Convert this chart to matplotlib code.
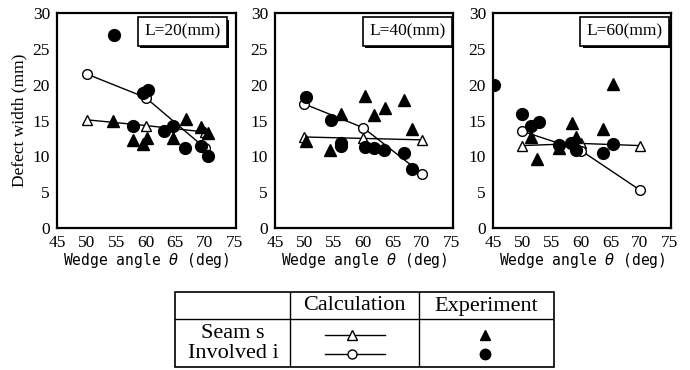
import matplotlib
matplotlib.use("Agg")
import matplotlib.pyplot as plt
from matplotlib.patches import Rectangle
import matplotlib.patheffects as pe

# ---------------- data ----------------
x_ticks = [45, 50, 55, 60, 65, 70, 75]
y_ticks = [0, 5, 10, 15, 20, 25, 30]
panel_labels = ["L=20(mm)", "L=40(mm)", "L=60(mm)"]

calc_x = [50, 60, 70]

# L = 20 mm
calc_seam_20 = [15.1, 14.3, 13.4]
calc_inv_20 = [21.5, 18.2, 11.2]
exp_seam_x_20 = [54.5, 57.9, 59.5, 60.3, 64.7, 66.8, 69.3, 70.6]
exp_seam_y_20 = [15.0, 12.3, 11.7, 12.6, 12.5, 15.2, 14.1, 13.2]
exp_inv_x_20 = [54.6, 59.6, 60.4, 57.9, 63.1, 64.7, 66.6, 69.3, 70.6]
exp_inv_y_20 = [27.0, 18.8, 19.3, 14.2, 13.5, 14.3, 11.2, 11.5, 10.1]

# L = 40 mm
calc_seam_40 = [12.7, 12.5, 12.3]
calc_inv_40 = [17.3, 14.0, 7.6]
exp_seam_x_40 = [50.2, 54.4, 56.3, 60.3, 61.9, 63.7, 66.9, 68.3]
exp_seam_y_40 = [12.2, 10.9, 15.9, 18.4, 15.7, 16.7, 17.8, 13.8]
exp_inv_x_40 = [50.2, 54.6, 56.3, 56.3, 60.3, 61.9, 63.6, 66.9, 68.3]
exp_inv_y_40 = [18.3, 15.1, 11.9, 11.5, 11.3, 11.2, 10.9, 10.5, 8.3]

# L = 60 mm
calc_seam_60 = [11.5, 11.8, 11.5]
calc_inv_60 = [13.5, 10.8, 5.3]
exp_seam_x_60 = [51.4, 52.5, 56.3, 58.5, 59.2, 63.8, 65.5]
exp_seam_y_60 = [12.7, 9.6, 11.1, 14.6, 12.7, 13.8, 20.1]
exp_inv_x_60 = [45.2, 50.0, 51.5, 52.8, 56.3, 58.3, 59.2, 63.8, 65.5]
exp_inv_y_60 = [20.0, 15.9, 14.3, 14.8, 11.6, 11.8, 10.9, 10.4, 11.7]

panels = [
    (calc_seam_20, calc_inv_20, exp_seam_x_20, exp_seam_y_20, exp_inv_x_20, exp_inv_y_20),
    (calc_seam_40, calc_inv_40, exp_seam_x_40, exp_seam_y_40, exp_inv_x_40, exp_inv_y_40),
    (calc_seam_60, calc_inv_60, exp_seam_x_60, exp_seam_y_60, exp_inv_x_60, exp_inv_y_60),
]

table_cols = ["Calculation", "Experiment"]
table_rows = ["Seam s", "Involved i"]

# ---------------- layout ----------------
W, H = 690, 370
fig = plt.figure(figsize=(W / 100, H / 100), dpi=100)
serif = ["Liberation Serif", "DejaVu Serif"]
mono = ["DejaVu Sans Mono"]

axes_px = [(57, 236), (275, 453), (493, 671)]
top_px, bot_px = 13, 228
box_pos = [0.70, 0.744, 0.739]

for i, (ax_lr, data) in enumerate(zip(axes_px, panels)):
    l, r = ax_lr
    ax = fig.add_axes([l / W, 1 - bot_px / H, (r - l) / W, (bot_px - top_px) / H])
    cs, ci, esx, esy, eix, eiy = data
    ax.plot(calc_x, cs, color="black", lw=1.0, marker="^", ms=7,
            mfc="white", mec="black", mew=1.0, zorder=3)
    ax.plot(calc_x, ci, color="black", lw=1.0, marker="o", ms=7,
            mfc="white", mec="black", mew=1.0, zorder=3)
    ax.plot(esx, esy, ls="none", marker="^", ms=8.5, color="black", zorder=4)
    ax.plot(eix, eiy, ls="none", marker="o", ms=8.5, color="black", zorder=4)
    ax.set_xlim(45, 75.3)
    ax.set_ylim(0, 30)
    ax.set_xticks(x_ticks)
    ax.set_yticks(y_ticks)
    ax.tick_params(length=0, pad=5, labelsize=12.5)
    for lab in ax.get_xticklabels() + ax.get_yticklabels():
        lab.set_family(serif)
    for sp in ax.spines.values():
        sp.set_linewidth(1.6)
    ax.set_xlabel("Wedge angle $\\theta$ (deg)", family=mono, fontsize=10.5, labelpad=0)
    if i == 0:
        ax.set_ylabel("Defect width (mm)", family=serif, fontsize=12.5, labelpad=4)
    t = ax.text(box_pos[i], 0.914, panel_labels[i], transform=ax.transAxes,
                ha="center", va="center", family=serif, fontsize=12.5,
                bbox=dict(boxstyle="square,pad=0.35", fc="white", ec="black", lw=1.2),
                zorder=6)
    t.get_bbox_patch().set_path_effects([
        pe.SimplePatchShadow(offset=(1.6, -1.6), shadow_rgbFace="black", alpha=1.0),
        pe.Normal()])

# ---------------- table legend ----------------
tl, tr, tt, tb = 175, 554, 292, 367
tax = fig.add_axes([tl / W, 1 - tb / H, (tr - tl) / W, (tb - tt) / H])
tax.set_xlim(0, tr - tl)
tax.set_ylim(tb - tt, 0)
tax.axis("off")
tw, th = tr - tl, tb - tt
tax.add_patch(Rectangle((0, 0), tw, th, fill=False, ec="black", lw=1.2, clip_on=False))
tax.plot([0, tw], [27, 27], color="black", lw=1.0)
tax.plot([115, 115], [0, th], color="black", lw=1.0)
tax.plot([244, 244], [0, th], color="black", lw=1.0)
tax.text(179.5, 14, table_cols[0], ha="center", va="center", family=serif, fontsize=16)
tax.text(311.5, 14, table_cols[1], ha="center", va="center", family=serif, fontsize=16)
tax.text(58, 42, table_rows[0], ha="center", va="center", family=serif, fontsize=16)
tax.text(58, 62, table_rows[1], ha="center", va="center", family=serif, fontsize=16)
tax.plot([150, 210], [43, 43], color="black", lw=1.0)
tax.plot([177], [43], marker="^", ms=6.5, mfc="white", mec="black", mew=1.0)
tax.plot([150, 210], [62, 62], color="black", lw=1.0)
tax.plot([177], [62], marker="o", ms=6.5, mfc="white", mec="black", mew=1.0)
tax.plot([310], [43], marker="^", ms=7.5, color="black")
tax.plot([310], [62], marker="o", ms=7.5, color="black")

fig.savefig("out.png", dpi=100)
